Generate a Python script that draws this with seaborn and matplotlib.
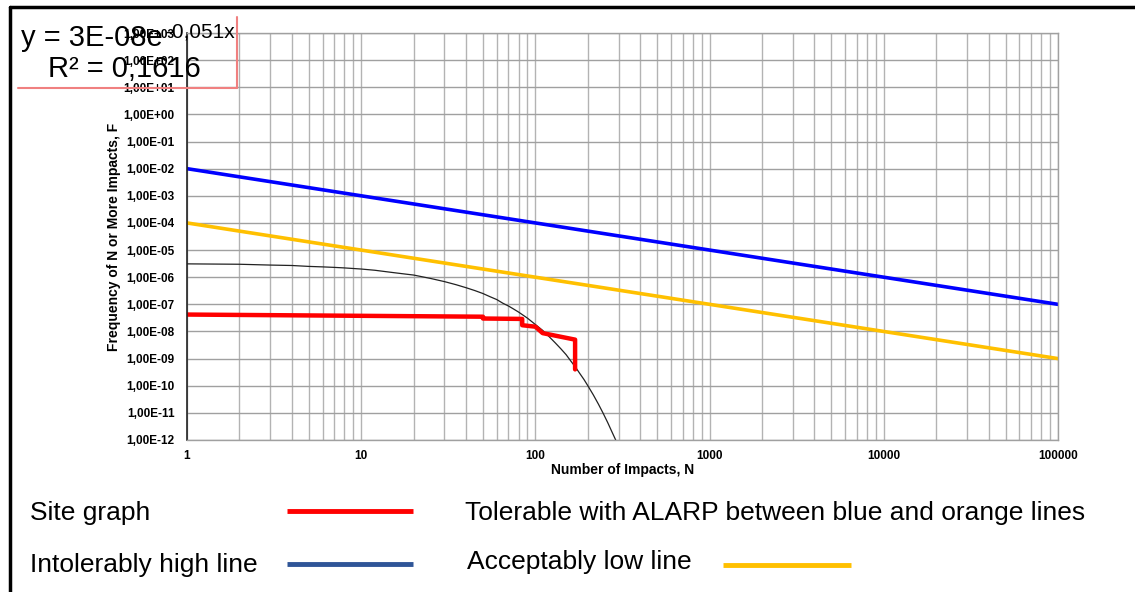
import numpy as np
import pandas as pd
import matplotlib
matplotlib.use("Agg")
import matplotlib.pyplot as plt
from matplotlib.lines import Line2D
from matplotlib import ticker
import seaborn as sns

# criteria lines (F = C / N)
crit_n = [1, 100000]
intolerable_f = [1e-2, 1e-7]
acceptable_f = [1e-4, 1e-9]

# site F-N curve (step path)
site_n = [1, 50, 50, 84, 84, 100, 110, 169, 169]
site_f = [4.2e-8, 3.5e-8, 3.0e-8, 2.9e-8, 1.7e-8, 1.5e-8, 8.7e-9, 5.0e-9, 4.0e-10]

# exponential trendline, points
trend_n = [1, 2, 3, 4, 5, 6, 7, 8, 10, 12, 15, 18, 20, 25, 30, 35, 40, 45, 50,
           55, 60, 65, 70, 75, 80, 90, 100, 110, 120, 130, 140, 150, 160, 170,
           180, 190, 200, 215, 230, 245, 260, 275, 289]
trend_f = [3.1e-6, 3.0e-6, 2.8e-6, 2.7e-6, 2.5e-6, 2.4e-6, 2.3e-6, 2.2e-6,
           2.0e-6, 1.8e-6, 1.5e-6, 1.3e-6, 1.2e-6, 9.0e-7, 6.9e-7, 5.3e-7,
           4.1e-7, 3.2e-7, 2.5e-7, 1.9e-7, 1.5e-7, 1.1e-7, 8.7e-8, 6.7e-8,
           5.2e-8, 3.1e-8, 1.8e-8, 1.1e-8, 6.4e-9, 3.8e-9, 2.3e-9, 1.4e-9,
           8.0e-10, 4.8e-10, 2.8e-10, 1.7e-10, 1.0e-10, 4.6e-11, 2.1e-11,
           9.6e-12, 4.4e-12, 2.0e-12, 1.0e-12]

x_ticks = [1, 10, 100, 1000, 10000, 100000]
y_exps = list(range(-12, 4))

red = "#ff0000"
blue = "#0000ff"
blue_legend = "#2f5597"
orange = "#ffc000"

sns.set_theme(style="white")
plt.rcParams["font.family"] = ["Liberation Sans", "DejaVu Sans"]
plt.rcParams["text.color"] = "black"
plt.rcParams["axes.labelcolor"] = "black"
plt.rcParams["xtick.color"] = "black"
plt.rcParams["ytick.color"] = "black"

fig = plt.figure(figsize=(11.35, 5.92), dpi=100)
ax = fig.add_axes([187 / 1135, 1 - 440 / 592, (1058 - 187) / 1135, (440 - 33) / 592])

sns.lineplot(x=crit_n, y=intolerable_f, ax=ax, color=blue, lw=2.6)
sns.lineplot(x=crit_n, y=acceptable_f, ax=ax, color=orange, lw=2.6)
sns.lineplot(x=trend_n, y=trend_f, ax=ax, color="#222222", lw=0.9)
sns.lineplot(x=site_n, y=site_f, ax=ax, color=red, lw=3.2, sort=False, estimator=None)

ax.set_xscale("log")
ax.set_yscale("log")
ax.set_xlim(1, 100000)
ax.set_ylim(1e-12, 1e3)

ax.xaxis.set_major_locator(ticker.FixedLocator(x_ticks))
ax.xaxis.set_major_formatter(ticker.FixedFormatter([str(t) for t in x_ticks]))
ax.xaxis.set_minor_locator(ticker.LogLocator(base=10, subs=np.arange(2, 10), numticks=20))
ax.xaxis.set_minor_formatter(ticker.NullFormatter())
ax.yaxis.set_major_locator(ticker.FixedLocator([10.0 ** e for e in y_exps]))
ax.yaxis.set_major_formatter(ticker.FuncFormatter(lambda v, p: f"{v:.2E}".replace(".", ",")))
ax.yaxis.set_minor_locator(ticker.NullLocator())

ax.grid(True, which="both", axis="x", color="#b3b3b3", lw=1.0)
ax.grid(True, which="major", axis="y", color="#a0a0a0", lw=1.0)
for t in ax.xaxis.get_major_ticks():
    if t.get_loc() in (10, 100):
        t.gridline.set_color("#111111")

ax.tick_params(axis="both", which="both", length=0)
ax.tick_params(axis="y", pad=9, labelsize=8.5)
ax.tick_params(axis="x", pad=7, labelsize=8.5)
for lab in ax.get_xticklabels() + ax.get_yticklabels():
    lab.set_fontweight("bold")

for s in ["top", "right", "bottom"]:
    ax.spines[s].set_color("#a0a0a0")
    ax.spines[s].set_linewidth(1.0)
ax.spines["left"].set_color("#222222")
ax.spines["left"].set_linewidth(1.2)

ax.set_xlabel("Number of Impacts, N", fontsize=10, fontweight="bold", labelpad=1)
ax.set_ylabel("Frequency of N or More Impacts, F", fontsize=10, fontweight="bold", labelpad=2)

# trendline equation box
fig.text(21 / 1135, 1 - 46 / 592, "y = 3E-08e", fontsize=21, va="baseline", ha="left", zorder=10)
fig.text(165 / 1135, 1 - 37 / 592, "-0,051x", fontsize=15, va="baseline", ha="left", zorder=10)
fig.text(48 / 1135, 1 - 77 / 592, "R² = 0,1616", fontsize=21, va="baseline", ha="left", zorder=10)
fig.add_artist(Line2D([237 / 1135, 237 / 1135], [1 - 17 / 592, 1 - 88 / 592],
                      color="#f08080", lw=1.5, transform=fig.transFigure))
fig.add_artist(Line2D([18 / 1135, 237 / 1135], [1 - 88 / 592, 1 - 88 / 592],
                      color="#f08080", lw=1.5, transform=fig.transFigure))

# outer frame (left and top)
fig.add_artist(Line2D([10 / 1135, 10 / 1135], [0, 1 - 7 / 592], color="black", lw=2.5,
                      transform=fig.transFigure))
fig.add_artist(Line2D([10 / 1135, 1], [1 - 7 / 592, 1 - 7 / 592], color="black", lw=2.5,
                      transform=fig.transFigure))

# legend below the chart
leg_fs = 19
fig.text(30 / 1135, 1 - 513 / 592, "Site graph", fontsize=leg_fs, va="center", ha="left")
fig.text(30 / 1135, 1 - 565 / 592, "Intolerably high line", fontsize=leg_fs, va="center", ha="left")
fig.text(465 / 1135, 1 - 513 / 592, "Tolerable with ALARP between blue and orange lines",
         fontsize=leg_fs, va="center", ha="left")
fig.text(467 / 1135, 1 - 562 / 592, "Acceptably low line", fontsize=leg_fs, va="center", ha="left")
for x0, x1, yy, c in [(287, 413, 511, red), (287, 413, 564, blue_legend), (723, 851, 565, orange)]:
    fig.add_artist(Line2D([x0 / 1135, x1 / 1135], [1 - yy / 592, 1 - yy / 592], color=c, lw=3.5,
                          solid_capstyle="butt", transform=fig.transFigure))

fig.savefig("out.png", dpi=100, facecolor="white")
